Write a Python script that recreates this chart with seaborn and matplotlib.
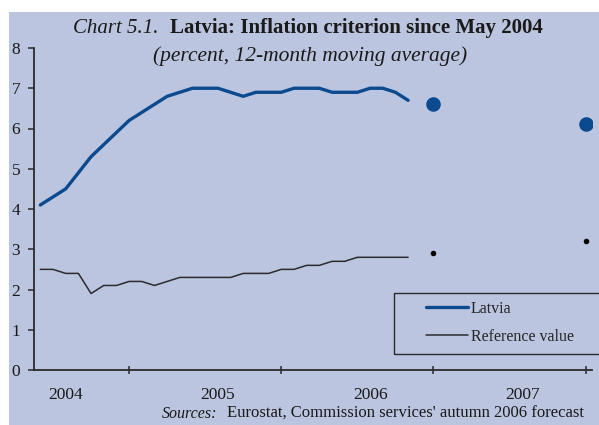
import pandas as pd
import matplotlib.pyplot as plt
import seaborn as sns
from matplotlib.patches import Rectangle

# monthly 12-month average HICP inflation, May 2004 - Oct 2006
months = pd.period_range('2004-05', '2007-12', freq='M').strftime('%Y-%m').tolist()
latvia = [4.1, 4.3, 4.5, 4.9, 5.3, 5.6, 5.9, 6.2, 6.4, 6.6, 6.8, 6.9, 7.0, 7.0, 7.0,
          6.9, 6.8, 6.9, 6.9, 6.9, 7.0, 7.0, 7.0, 6.9, 6.9, 6.9, 7.0, 7.0, 6.9, 6.7]
reference = [2.5, 2.5, 2.4, 2.4, 1.9, 2.1, 2.1, 2.2, 2.2, 2.1, 2.2, 2.3, 2.3, 2.3, 2.3,
             2.3, 2.4, 2.4, 2.4, 2.5, 2.5, 2.6, 2.6, 2.7, 2.7, 2.8, 2.8, 2.8, 2.8, 2.8]
# forecasts (annual averages)
fc_months = ['2006-12', '2007-12']
fc_latvia = [6.6, 6.1]
fc_reference = [2.9, 3.2]
years = ['2004', '2005', '2006', '2007']

bg = '#bcc5df'
blue = '#0b4a8e'
dark = '#2b2b2b'

sns.set_theme(style='white')
plt.rcParams['font.family'] = ['Liberation Serif', 'DejaVu Serif']

df = pd.DataFrame({'x': range(len(latvia)), 'Latvia': latvia, 'Reference value': reference})
fc = pd.DataFrame({'x': [months.index(m) for m in fc_months],
                   'Latvia': fc_latvia, 'Reference value': fc_reference})

fig = plt.figure(figsize=(5.99, 4.25), dpi=100, facecolor='white')
fig.patches.append(Rectangle((9 / 599, 0), 1, 413 / 425, transform=fig.transFigure,
                             facecolor=bg, edgecolor='none', zorder=-10))
ax = fig.add_axes([34 / 599, 1 - 370 / 425, 558 / 599, 322 / 425])
ax.set_facecolor('none')

sns.lineplot(data=df, x='x', y='Latvia', color=blue, lw=2.4, ax=ax, label='Latvia')
sns.lineplot(data=df, x='x', y='Reference value', color=dark, lw=1.1, ax=ax,
             label='Reference value')
sns.scatterplot(data=fc, x='x', y='Latvia', color=blue, s=110, linewidth=0, ax=ax, legend=False)
sns.scatterplot(data=fc, x='x', y='Reference value', color='black', s=16, linewidth=0,
                ax=ax, legend=False)

ax.set_xlim(-0.5, len(months) - 0.5)
ax.set_ylim(0, 8)
ax.set_xlabel('')
ax.set_ylabel('')

for s in ['top', 'right']:
    ax.spines[s].set_visible(False)
for s in ['left', 'bottom']:
    ax.spines[s].set_color(dark)
    ax.spines[s].set_linewidth(1.3)

# year ticks at December, labels mid-year
ax.set_xticks([months.index(y + '-12') for y in years])
ax.set_xticklabels([])
ax.set_xticks([months.index(y + '-07') for y in years], minor=True)
ax.set_xticklabels(years, minor=True, fontsize=12.5, color='#1a1a1a')
ax.tick_params(axis='x', which='major', direction='inout', length=6, width=1.1,
               color=dark, bottom=True)
ax.tick_params(axis='x', which='minor', length=0, pad=12)
ax.set_yticks(range(0, 9))
ax.tick_params(axis='y', direction='out', length=4, width=1.1, color=dark, left=True,
               pad=6, labelsize=12.5, labelcolor='#1a1a1a')

ax.add_patch(Rectangle((0.6446, 0.0497), 0.4, 0.1883, transform=ax.transAxes,
                       facecolor='none', edgecolor=dark, lw=1.0, clip_on=False))
ax.legend(loc='center left', bbox_to_anchor=(0.703, 0.146), frameon=False, fontsize=11.5,
          handlelength=2.6, handletextpad=0.2, labelspacing=0.75, borderpad=0,
          borderaxespad=0)

fig.text(73 / 599, 1 - 33 / 425, 'Chart 5.1.', fontsize=15, style='italic', color='#1a1a1a')
fig.text(170 / 599, 1 - 33 / 425, 'Latvia: Inflation criterion since May 2004', fontsize=15,
         weight='bold', color='#1a1a1a')
fig.text(153 / 599, 1 - 61 / 425, '(percent, 12-month moving average)', fontsize=15.5,
         style='italic', color='#1a1a1a')
fig.text(162 / 599, 1 - 418 / 425, 'Sources:', fontsize=11.5, style='italic', color='#1a1a1a')
fig.text(227 / 599, 1 - 418 / 425, "Eurostat, Commission services' autumn 2006 forecast",
         fontsize=12, color='#1a1a1a')

fig.savefig('out.png', dpi=100, facecolor='white')
